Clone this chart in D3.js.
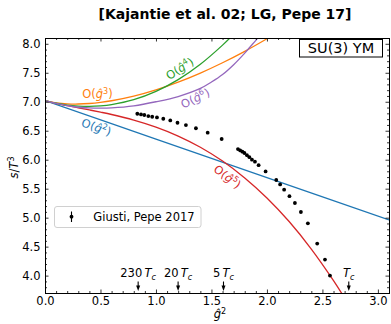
<!DOCTYPE html>
<html><head><meta charset="utf-8">
<script src="https://cdn.jsdelivr.net/npm/d3@7"></script>
<style>
html,body{margin:0;padding:0;background:#fff;}
svg{display:block;font-family:"DejaVu Sans",sans-serif;}
</style></head><body>
<svg id="chart" width="391" height="324"></svg>
<script>
// Lattice results (Giusti, Pepe 2017): s/T^3 against ĝ²
const latticeG2 = [0.832,0.865,0.895,0.931,0.966,1.009,1.066,1.129,1.194,1.270,1.360,1.466,1.592,
  1.739,1.759,1.779,1.797,1.820,1.842,1.865,1.892,1.925,1.988,2.084,2.119,2.155,2.203,2.252,2.306,
  2.369,2.453,2.523,2.568];
const latticeS = [6.793,6.781,6.771,6.753,6.741,6.729,6.707,6.678,6.638,6.598,6.543,6.466,6.357,
  6.184,6.160,6.138,6.116,6.078,6.043,6.000,5.966,5.905,5.798,5.650,5.574,5.483,5.371,5.253,5.098,
  4.902,4.552,4.276,4.000];

// Perturbative series truncated at successive orders (Kajantie et al. 02)
const g2Order2 = [0, 1, 2, 3.1];
const sOrder2  = [7.02, 6.355, 5.69, 4.96];
const g2Order3 = [0,0.05,0.1,0.2,0.3,0.4,0.5,0.6,0.8,1.0,1.2,1.4,1.6,1.8,2.0,2.1];
const sOrder3  = [7.02,6.997,6.981,6.964,6.961,6.970,6.989,7.017,7.097,7.205,7.338,7.495,7.673,7.870,8.087,8.202];
const g2Order4 = [0,0.05,0.1,0.2,0.3,0.4,0.5,0.6,0.8,1.0,1.2,1.4,1.6,1.7];
const sOrder4  = [7.02,6.995,6.974,6.943,6.926,6.921,6.930,6.952,7.037,7.180,7.382,7.647,7.977,8.165];
const g2Order5 = [0,0.1,0.2,0.3,0.4,0.5,0.6,0.8,1.0,1.2,1.4,1.6,1.8,2.0,2.2,2.4,2.6,2.7];
const sOrder5  = [7.02,6.972,6.932,6.896,6.859,6.821,6.780,6.683,6.562,6.408,6.215,5.977,5.686,5.340,4.933,4.458,3.913,3.613];
const g2Order6 = [0,0.05,0.1,0.2,0.3,0.4,0.5,0.6,0.8,1.0,1.2,1.4,1.5,1.6,1.7,1.8,1.9,1.95];
const sOrder6  = [7.02,6.995,6.972,6.935,6.905,6.893,6.89,6.895,6.93,7.00,7.09,7.23,7.34,7.47,7.64,7.84,8.06,8.17];

// Temperature markers along ĝ²
const markG2 = [0.835, 1.195, 1.604, 2.733];
const markLabel = ["230", "20", "5", ""];

const xTicks = [0, 0.5, 1.0, 1.5, 2.0, 2.5, 3.0];
const yTicks = [4.0, 4.5, 5.0, 5.5, 6.0, 6.5, 7.0, 7.5, 8.0];

const plotLeft = 45, plotRight = 389, plotTop = 38, plotBottom = 293;
const x = d3.scaleLinear().domain([0, 3.1]).range([plotLeft, plotRight]);
const y = d3.scaleLinear().domain([3.7, 8.1]).range([plotBottom, plotTop]);

const svg = d3.select("#chart");
const FS = 11.5;

svg.append("defs").append("clipPath").attr("id", "plotArea")
  .append("rect").attr("x", plotLeft).attr("y", plotTop)
  .attr("width", plotRight - plotLeft).attr("height", plotBottom - plotTop);

// Series curves
const line = d3.line().x(d => x(d[0])).y(d => y(d[1])).curve(d3.curveCatmullRom.alpha(0.5));
const curves = [
  {g: g2Order2, s: sOrder2, color: "#1f77b4"},
  {g: g2Order5, s: sOrder5, color: "#d62728"},
  {g: g2Order3, s: sOrder3, color: "#ff7f0e"},
  {g: g2Order4, s: sOrder4, color: "#2ca02c"},
  {g: g2Order6, s: sOrder6, color: "#9467bd"}
];
const plot = svg.append("g").attr("clip-path", "url(#plotArea)");
curves.forEach(c => {
  plot.append("path").datum(c.g.map((v, i) => [v, c.s[i]]))
    .attr("d", line).attr("fill", "none").attr("stroke", c.color).attr("stroke-width", 1.3);
});

// Lattice points
plot.selectAll("circle.lat").data(latticeG2.map((v, i) => [v, latticeS[i]]))
  .enter().append("circle").attr("class", "lat")
  .attr("cx", d => x(d[0])).attr("cy", d => y(d[1])).attr("r", 1.9).attr("fill", "#000");

// Order labels: O(ĝ^n)
function orderLabel(cx, cy, angle, n, color) {
  const t = svg.append("text")
    .attr("transform", `translate(${cx},${cy}) rotate(${angle})`)
    .attr("text-anchor", "middle").attr("font-size", FS).attr("fill", color);
  t.append("tspan").text("O(");
  t.append("tspan").attr("font-style", "italic").text("ĝ");
  t.append("tspan").attr("font-size", FS * 0.7).attr("dy", -4.5).text(n);
  t.append("tspan").attr("dy", 4.5).text(")");
}
orderLabel(97.5, 98, 0, "3", "#ff7f0e");
orderLabel(182, 72, -33, "4", "#2ca02c");
orderLabel(197, 102, -26, "6", "#9467bd");
orderLabel(95, 131, 19, "2", "#1f77b4");
orderLabel(225, 180, 37, "5", "#d62728");

// Axes with inward ticks on all four sides
const minorX = d3.range(0, 3.101, 0.1).filter(v => Math.abs(v * 2 - Math.round(v * 2)) > 1e-6);
const minorY = d3.range(3.7, 8.101, 0.1).filter(v => Math.abs(v * 2 - Math.round(v * 2)) > 1e-6);
const fmt = d3.format(".1f");

function styleAxis(g) {
  g.select(".domain").remove();
  g.selectAll("line").attr("stroke", "#000").attr("stroke-width", 0.8);
  g.selectAll("text").attr("font-size", FS).attr("fill", "#000").attr("font-family", "DejaVu Sans");
}
svg.append("g").attr("transform", `translate(0,${plotBottom})`)
  .call(d3.axisBottom(x).tickValues(xTicks).tickSize(-3.5).tickPadding(4).tickFormat(fmt)).call(styleAxis);
svg.append("g").attr("transform", `translate(0,${plotBottom})`)
  .call(d3.axisBottom(x).tickValues(minorX).tickSize(-2).tickFormat("")).call(styleAxis);
svg.append("g").attr("transform", `translate(0,${plotTop})`)
  .call(d3.axisTop(x).tickValues(xTicks).tickSize(-3.5).tickFormat("")).call(styleAxis);
svg.append("g").attr("transform", `translate(0,${plotTop})`)
  .call(d3.axisTop(x).tickValues(minorX).tickSize(-2).tickFormat("")).call(styleAxis);
svg.append("g").attr("transform", `translate(${plotLeft},0)`)
  .call(d3.axisLeft(y).tickValues(yTicks).tickSize(-3.5).tickPadding(4.5).tickFormat(fmt)).call(styleAxis);
svg.append("g").attr("transform", `translate(${plotLeft},0)`)
  .call(d3.axisLeft(y).tickValues(minorY).tickSize(-2).tickFormat("")).call(styleAxis);
svg.append("g").attr("transform", `translate(${plotRight},0)`)
  .call(d3.axisRight(y).tickValues(yTicks).tickSize(-3.5).tickFormat("")).call(styleAxis);
svg.append("g").attr("transform", `translate(${plotRight},0)`)
  .call(d3.axisRight(y).tickValues(minorY).tickSize(-2).tickFormat("")).call(styleAxis);

svg.append("rect").attr("x", plotLeft + 0.5).attr("y", plotTop + 0.5)
  .attr("width", plotRight - plotLeft).attr("height", plotBottom - plotTop)
  .attr("fill", "none").attr("stroke", "#000").attr("stroke-width", 1);

// Temperature arrows
markG2.forEach((v, i) => {
  const px = x(v) + 0.5;
  svg.append("line").attr("x1", px).attr("x2", px).attr("y1", 281.5).attr("y2", 288)
    .attr("stroke", "#000").attr("stroke-width", 1.1);
  svg.append("path").attr("d", `M${px - 2},285.5 L${px + 2},285.5 L${px},291 Z`).attr("fill", "#000");
  const t = svg.append("text").attr("x", px).attr("y", 277.3)
    .attr("text-anchor", "middle").attr("font-size", FS).attr("fill", "#000");
  if (markLabel[i]) t.append("tspan").text(markLabel[i] + "\u2009");
  t.append("tspan").attr("font-style", "italic").text("T");
  t.append("tspan").attr("font-style", "italic").attr("font-size", FS * 0.7).attr("dy", 2.5).text("c");
});

// Legend
const lg = svg.append("g");
lg.append("rect").attr("x", 54.5).attr("y", 206.5).attr("width", 146.5).attr("height", 21)
  .attr("rx", 2.5).attr("fill", "#fff").attr("fill-opacity", 0.8)
  .attr("stroke", "#d0d0d0").attr("stroke-width", 1);
lg.append("line").attr("x1", 71.5).attr("x2", 71.5).attr("y1", 211.5).attr("y2", 222)
  .attr("stroke", "#000").attr("stroke-width", 1.1);
lg.append("circle").attr("cx", 71.5).attr("cy", 216.7).attr("r", 1.9).attr("fill", "#000");
lg.append("text").attr("x", 93.3).attr("y", 221).attr("font-size", FS).attr("fill", "#000")
  .text("Giusti, Pepe 2017");

// SU(3) YM box
svg.append("rect").attr("x", 299.5).attr("y", 39.5).attr("width", 83).attr("height", 17.5)
  .attr("fill", "#fff").attr("stroke", "#000").attr("stroke-width", 1);
svg.append("text").attr("x", 341).attr("y", 53.3).attr("text-anchor", "middle")
  .attr("font-size", 14.5).attr("fill", "#000").text("SU(3) YM");

// Title
svg.append("text").attr("x", 225).attr("y", 18.5).attr("text-anchor", "middle")
  .attr("font-size", 14).attr("font-weight", "bold").attr("fill", "#000")
  .text("[Kajantie et al. 02; LG, Pepe 17]");

// Axis titles
const yl = svg.append("text").attr("transform", "translate(18,167.5) rotate(-90)")
  .attr("text-anchor", "middle").attr("font-size", FS).attr("fill", "#000");
yl.append("tspan").attr("font-style", "italic").text("s");
yl.append("tspan").text("/");
yl.append("tspan").attr("font-style", "italic").text("T");
yl.append("tspan").attr("font-size", FS * 0.7).attr("dy", -4.5).text("3");

const xl = svg.append("text").attr("x", 220).attr("y", 318).attr("text-anchor", "middle")
  .attr("font-size", FS).attr("fill", "#000");
xl.append("tspan").attr("font-style", "italic").text("ĝ");
xl.append("tspan").attr("font-size", FS * 0.7).attr("dy", -4.5).text("2");
</script>
</body></html>
